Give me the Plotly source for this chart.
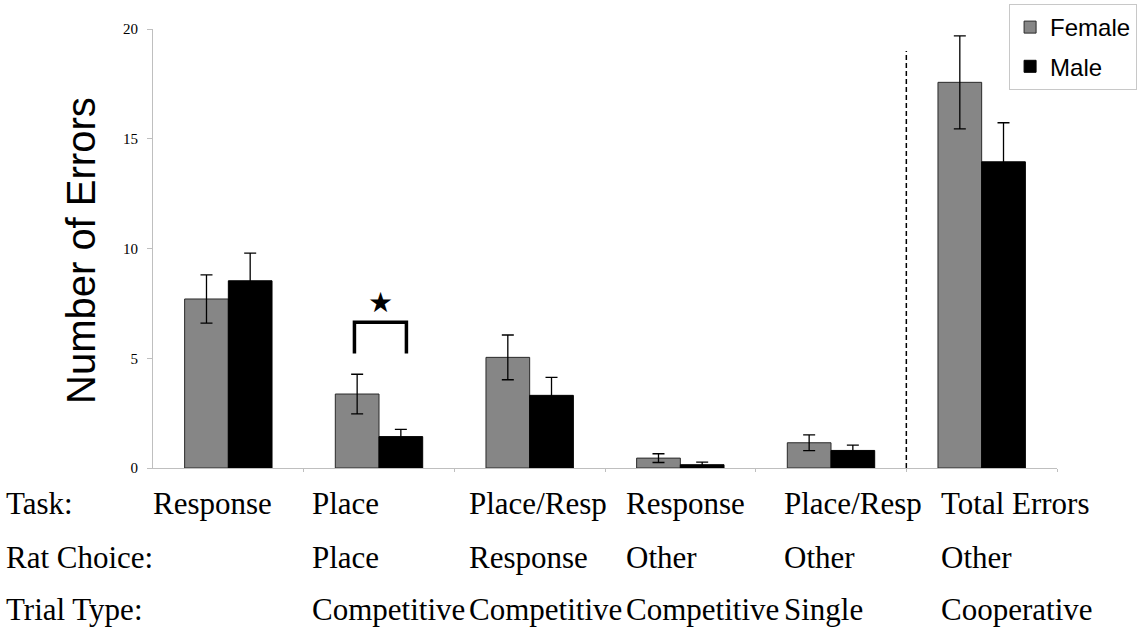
import plotly.graph_objects as go

# Error counts per condition (mean +/- SEM)
task = ["Response", "Place", "Place/Resp", "Response", "Place/Resp", "Total Errors"]
rat_choice = ["", "Place", "Response", "Other", "Other", "Other"]
trial_type = ["", "Competitive", "Competitive", "Competitive", "Single", "Cooperative"]
row_labels = ["Task:", "Rat Choice:", "Trial Type:"]

female_mean = [7.7, 3.37, 5.04, 0.45, 1.15, 17.57]
female_sem = [1.1, 0.9, 1.02, 0.2, 0.36, 2.12]
male_mean = [8.53, 1.43, 3.31, 0.15, 0.8, 13.95]
male_sem = [1.26, 0.33, 0.82, 0.12, 0.24, 1.78]

y_ticks = [0, 5, 10, 15, 20]

x_pos = list(range(len(task)))

# page geometry (pixels) used to place the free-standing text
plot_left, plot_w = 153, 904
paper_bottom, paper_h = 468, 464
axis_h = 439


def py(px):
    return (paper_bottom - px) / paper_h


def pxx(px):
    return (px - plot_left) / plot_w


fig = go.Figure()
fig.add_trace(go.Bar(
    x=x_pos, y=female_mean, name="Female",
    marker=dict(color="#868686", line=dict(color="#2a2a2a", width=1)),
    error_y=dict(type="data", array=female_sem, color="black", thickness=1.3, width=6),
    legendgroup="f",
))
fig.add_trace(go.Bar(
    x=x_pos, y=male_mean, name="Male",
    marker=dict(color="#000000", line=dict(color="#000000", width=1)),
    error_y=dict(type="data", array=male_sem, color="black", thickness=1.3, width=6),
    legendgroup="m",
))

# dashed divider before the cooperative total
fig.add_shape(type="line", x0=4.5, x1=4.5, y0=0, y1=19.0, xref="x", yref="y",
              line=dict(color="black", width=1.5, dash="5px,3px"))

# significance bracket over the Place / Competitive pair
fig.add_shape(type="path", xref="x", yref="y",
              path="M 0.837 5.22 L 0.837 6.64 L 1.182 6.64 L 1.182 5.22",
              line=dict(color="black", width=3.5))
fig.add_annotation(x=1.01, y=7.55, xref="x", yref="y", text="★", showarrow=False,
                   font=dict(size=28, color="black", family="DejaVu Sans"))

# y-axis title
fig.add_annotation(x=pxx(81), y=py(251), xref="paper", yref="paper", text="Number of Errors",
                   textangle=-90, showarrow=False, xanchor="center", yanchor="middle",
                   font=dict(size=40, color="black", family="Liberation Sans"))

# condition table below the axis
col_px = [152, 311, 468, 625, 783, 940]
row_px = [503, 557, 610]
rows = [task, rat_choice, trial_type]
serif = dict(size=31, color="black", family="Liberation Serif")
for r, (label, values) in enumerate(zip(row_labels, rows)):
    yp = py(row_px[r])
    fig.add_annotation(x=pxx(5), y=yp, xref="paper", yref="paper",
                       text=label, showarrow=False, xanchor="left", yanchor="middle",
                       font=serif, borderpad=0)
    for c, v in enumerate(values):
        if not v:
            continue
        fig.add_annotation(x=pxx(col_px[c]), y=yp, xref="paper", yref="paper",
                           text=v, showarrow=False, xanchor="left", yanchor="middle",
                           font=serif, borderpad=0)

fig.update_layout(
    width=1142, height=636, autosize=False,
    margin=dict(l=153, r=85, t=4, b=168, autoexpand=False),
    paper_bgcolor="white", plot_bgcolor="white",
    barmode="group", bargap=0.42, bargroupgap=0,
    showlegend=True,
    legend=dict(x=0.947, y=1.0, xanchor="left", yanchor="top",
                bordercolor="#c8c8c8", borderwidth=1, bgcolor="white",
                font=dict(size=24, color="black", family="Liberation Sans"),
                traceorder="grouped", tracegroupgap=5),
    xaxis=dict(range=[-0.5, 5.5], showline=True, linecolor="#bfbfbf", linewidth=1,
               tickvals=[0.5, 1.5, 2.5, 3.5, 4.5, 5.5], ticks="outside", ticklen=3,
               tickcolor="#bfbfbf", showticklabels=False, showgrid=False, zeroline=False,
               automargin=False),
    yaxis=dict(range=[0, 20], domain=[0, axis_h / paper_h],
               tickvals=y_ticks, ticktext=[str(t) for t in y_ticks],
               showline=True, linecolor="#bfbfbf", linewidth=1, ticks="outside", ticklen=5,
               tickcolor="#bfbfbf", showgrid=False, zeroline=False, automargin=False,
               tickfont=dict(size=15, color="black", family="Liberation Serif"),
               ticklabelstandoff=6),
)

fig.write_html("out.html")
